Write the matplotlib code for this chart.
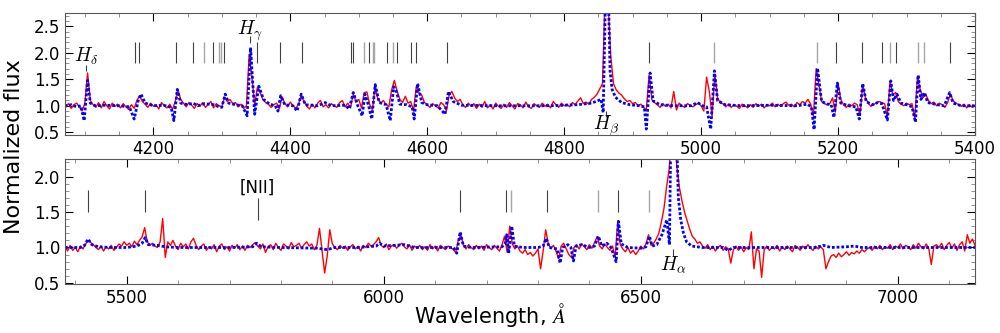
import numpy as np
import matplotlib
matplotlib.use('Agg')
import matplotlib.pyplot as plt
from matplotlib.ticker import MultipleLocator

plt.rcParams['mathtext.fontset'] = 'cm'

# observed spectrum, blue arm (4 A steps from 4072 A)
obs_top = [
    0.97, 1.04, 0.95, 1.02, 1.05, 0.98, 0.90, 1.05, 1.62, 1.10,
    1.02, 0.97, 1.06, 0.96, 1.08, 1.00, 0.94, 1.05, 0.99, 1.03,
    0.96, 1.04, 0.98, 0.93, 1.02, 0.95, 1.10, 1.19, 1.08, 1.03,
    0.97, 1.05, 0.99, 1.02, 0.94, 1.06, 1.00, 0.96, 1.03, 0.93,
    1.08, 1.30, 1.12, 1.05, 0.98, 1.06, 1.01, 0.95, 1.04, 0.99,
    1.06, 0.97, 1.02, 1.08, 0.96, 1.04, 1.00, 0.98, 1.16, 1.08,
    1.12, 1.04, 1.06, 0.98, 1.03, 0.95, 1.00, 1.97, 1.55, 1.02,
    1.35, 1.25, 1.12, 1.06, 1.03, 0.97, 1.02, 1.05, 0.94, 1.17,
    1.04, 0.98, 1.07, 1.00, 0.95, 1.03, 1.20, 1.08, 0.99, 0.94,
    1.03, 0.96, 1.05, 1.10, 0.98, 1.02, 0.96, 1.04, 1.00, 0.97,
    1.06, 1.10, 0.98, 1.05, 0.96, 1.22, 1.08, 1.12, 0.96, 1.25,
    1.26, 1.02, 0.92, 1.38, 1.12, 1.05, 1.10, 1.02, 0.98, 1.30,
    1.48, 1.28, 1.12, 1.06, 1.18, 1.05, 1.08, 0.90, 1.36, 1.25,
    1.20, 1.06, 1.02, 0.97, 1.04, 1.00, 0.96, 1.06, 1.02, 0.90,
    1.20, 1.27, 1.15, 1.08, 1.12, 1.02, 0.97, 1.05, 0.99, 1.04,
    0.95, 1.03, 0.97, 1.08, 0.96, 1.02, 0.94, 1.05, 0.99, 0.95,
    1.03, 0.97, 1.06, 1.00, 0.94, 1.04, 1.02, 0.96, 1.07, 0.98,
    0.95, 1.04, 1.00, 0.97, 1.05, 0.99, 1.03, 0.96, 1.08, 1.02,
    0.97, 1.05, 1.00, 1.03, 0.98, 1.06, 1.02, 1.09, 1.15, 1.04,
    1.07, 1.03, 1.12, 1.16, 1.22, 1.32, 1.42, 3.20, 3.00, 1.95,
    1.42, 1.30, 1.24, 1.20, 1.13, 1.08, 1.10, 1.04, 1.06, 1.00,
    1.03, 0.97, 0.92, 1.58, 1.12, 1.06, 1.02, 0.97, 1.04, 0.99,
    1.03, 0.96, 1.27, 0.92, 1.05, 1.00, 0.97, 1.04, 1.01, 0.98,
    1.02, 1.05, 1.00, 0.90, 1.54, 1.27, 0.80, 1.60, 1.15, 1.05,
    1.04, 0.98, 1.03, 0.97, 1.02, 0.99, 0.95, 1.03, 1.00, 0.96,
    1.02, 0.97, 1.04, 0.99, 1.03, 0.96, 1.02, 1.00, 1.05, 0.98,
    1.03, 0.99, 1.04, 1.07, 1.01, 1.03, 0.98, 1.06, 1.02, 1.08,
    1.05, 1.12, 1.03, 0.80, 1.70, 1.40, 1.08, 1.04, 1.02, 1.04,
    1.15, 0.88, 1.42, 1.12, 1.02, 0.97, 1.03, 1.00, 1.05, 1.02,
    0.82, 1.40, 1.15, 1.05, 0.99, 1.02, 1.06, 1.08, 1.06, 1.04,
    0.80, 1.47, 1.20, 1.25, 1.08, 1.03, 1.00, 1.05, 1.02, 1.04,
    0.76, 1.55, 1.30, 1.15, 1.22, 1.10, 1.04, 1.07, 1.00, 1.05,
    1.02, 0.97, 1.06, 1.22, 1.10, 1.05, 1.02, 0.99, 1.03, 0.96,
    1.02, 0.97, 1.00,
]

# observed spectrum, red arm (5 A steps from 5380 A)
obs_bot = [
    1.02, 0.95, 1.03, 0.96, 1.00, 0.94, 1.02, 0.98, 1.05, 1.10,
    1.07, 1.04, 1.00, 0.97, 1.02, 0.95, 1.01, 0.98, 1.03, 0.96,
    1.00, 1.05, 1.02, 1.08, 1.03, 1.06, 1.01, 1.09, 1.04, 1.10,
    1.15, 1.28, 1.08, 1.03, 1.06, 1.02, 1.00, 1.08, 1.41, 0.86,
    1.08, 1.03, 1.10, 1.02, 0.97, 1.06, 1.01, 1.05, 0.98, 1.08,
    1.13, 1.03, 0.97, 1.02, 1.05, 0.96, 1.01, 0.98, 1.04, 0.94,
    1.02, 1.05, 0.97, 1.01, 0.95, 1.03, 0.99, 1.04, 0.97, 1.02,
    0.96, 1.03, 1.00, 1.04, 1.07, 1.02, 0.98, 1.05, 0.93, 1.01,
    1.04, 0.97, 1.06, 1.00, 0.96, 1.05, 1.02, 0.98, 1.07, 1.01,
    1.03, 1.06, 0.99, 1.04, 1.08, 1.02, 1.05, 0.97, 1.03, 1.27,
    0.95, 0.64, 0.88, 1.25, 1.05, 1.00, 0.97, 1.03, 0.99, 1.02,
    0.96, 1.01, 1.04, 0.98, 1.02, 0.95, 1.03, 1.00, 1.06, 1.02,
    1.04, 1.08, 1.14, 1.03, 1.00, 1.05, 0.97, 1.02, 1.04, 0.99,
    1.03, 1.06, 1.01, 0.98, 1.04, 0.96, 1.02, 0.99, 1.03, 0.97,
    1.01, 0.96, 1.04, 0.98, 1.02, 0.95, 1.03, 1.00, 0.97, 1.02,
    1.00, 0.97, 0.93, 1.10, 1.18, 1.03, 0.98, 1.04, 1.00, 0.97,
    1.03, 0.98, 1.02, 0.96, 1.04, 1.00, 0.97, 1.03, 0.99, 0.95,
    1.04, 1.16, 0.93, 1.30, 1.05, 0.98, 1.02, 0.95, 0.92, 0.97,
    0.90, 0.93, 0.88, 0.92, 0.98, 0.70, 0.95, 1.25, 1.05, 0.99,
    1.03, 0.95, 0.84, 1.02, 1.06, 0.98, 0.90, 0.86, 1.00, 1.04,
    0.98, 1.05, 1.01, 0.97, 1.04, 0.99, 1.07, 1.15, 1.02, 0.98,
    1.05, 1.00, 0.96, 1.02, 0.86, 1.35, 1.04, 0.98, 0.94, 1.00,
    0.92, 0.96, 0.90, 0.95, 1.02, 0.98, 1.05, 1.18, 1.03, 1.06,
    1.12, 1.20, 1.36, 1.55, 1.85, 2.10, 2.60, 2.60, 2.15, 1.85,
    1.66, 1.50, 1.38, 1.26, 1.16, 1.12, 1.06, 1.08, 1.02, 0.99,
    1.04, 0.97, 1.02, 0.95, 1.00, 1.03, 0.96, 1.01, 0.98, 0.78,
    0.97, 1.02, 0.96, 1.01, 0.94, 1.00, 0.97, 1.22, 0.70, 0.98,
    0.95, 0.58, 0.97, 1.02, 0.96, 1.00, 0.98, 1.03, 0.95, 1.01,
    0.97, 1.02, 0.98, 0.94, 1.03, 1.00, 0.96, 1.02, 0.98, 1.04,
    0.99, 0.96, 1.02, 0.98, 1.01, 0.97, 0.70, 0.80, 0.88, 0.90,
    0.86, 0.92, 0.87, 0.90, 0.94, 0.89, 0.93, 0.91, 0.95, 0.92,
    0.97, 0.94, 0.98, 1.00, 0.96, 1.02, 0.98, 1.03, 0.97, 1.01,
    0.99, 1.04, 0.97, 1.02, 1.00, 1.05, 0.98, 1.03, 1.01, 0.97,
    1.04, 0.99, 1.06, 1.01, 0.98, 1.05, 0.99, 0.76, 1.02, 1.04,
    1.00, 1.06, 0.97, 1.03, 1.07, 0.99, 1.05, 0.96, 1.04, 1.08,
    0.95, 1.18, 1.06, 1.12, 1.03,
]

# synthetic model (wavelength, flux) nodes
mod_top_wl = [
    4070, 4080, 4088, 4094, 4099, 4104, 4108, 4115, 4130, 4150, 4165, 4172, 4178, 4182,
    4188, 4200, 4215, 4226, 4230, 4235, 4240, 4250, 4258, 4265, 4275, 4288, 4296, 4300,
    4305, 4310, 4320, 4330, 4337, 4342, 4348, 4354, 4361, 4370, 4378, 4382, 4386, 4392,
    4404, 4410, 4416, 4422, 4440, 4451, 4460, 4480, 4486, 4492, 4498, 4505, 4509, 4514,
    4519, 4524, 4530, 4540, 4546, 4551, 4555, 4560, 4570, 4578, 4581, 4586, 4592, 4600,
    4615, 4626, 4631, 4638, 4650, 4700, 4780, 4820, 4840, 4848, 4854, 4857, 4861, 4864,
    4867, 4870, 4875, 4884, 4896, 4910, 4917, 4920, 4925.5, 4930, 4940, 4960, 4985, 4995,
    5002, 5008, 5014, 5019.5, 5024, 5035, 5060, 5100, 5140, 5155, 5161, 5165, 5170, 5176,
    5185, 5190, 5194, 5199, 5204, 5215, 5226, 5231, 5236, 5241, 5250, 5258, 5264, 5272,
    5277, 5281, 5286, 5292, 5300, 5308, 5313, 5317, 5321, 5326, 5331, 5345, 5355, 5363,
    5368, 5380, 5400,
]
mod_top_flux = [
    1.00, 1.02, 0.98, 1.00, 0.72, 1.48, 1.05, 1.00, 1.01, 1.00, 0.98, 0.75, 1.10, 1.22,
    1.05, 1.00, 1.01, 0.97, 0.72, 1.31, 1.05, 1.02, 1.05, 1.00, 1.04, 1.02, 0.98, 0.97,
    1.22, 1.05, 1.02, 1.00, 0.81, 2.10, 0.84, 1.37, 1.12, 1.03, 1.00, 0.90, 1.19, 1.02,
    1.00, 0.90, 1.22, 1.02, 1.00, 1.06, 1.00, 1.01, 0.94, 1.25, 1.02, 0.81, 1.22, 1.02,
    0.75, 1.40, 1.06, 1.02, 0.72, 1.36, 1.27, 1.03, 1.02, 0.98, 0.75, 1.42, 1.06, 1.02,
    1.00, 0.84, 1.27, 1.08, 1.01, 1.00, 1.00, 1.02, 1.05, 1.09, 1.12, 0.87, 3.50, 3.50,
    1.66, 1.31, 1.16, 1.06, 1.02, 1.00, 0.98, 0.56, 1.62, 1.09, 1.02, 1.00, 1.00, 1.06,
    1.00, 0.98, 0.56, 1.66, 1.10, 1.02, 1.00, 1.01, 1.00, 1.03, 0.98, 0.55, 1.71, 1.08,
    1.03, 1.02, 0.78, 1.43, 1.05, 1.00, 0.98, 0.75, 1.42, 1.08, 1.02, 1.06, 1.04, 0.73,
    1.47, 1.10, 1.22, 1.05, 1.02, 0.98, 0.69, 1.58, 1.12, 1.25, 1.06, 1.02, 1.00, 1.25,
    1.05, 1.00, 1.00,
]
mod_bot_wl = [
    5380, 5410, 5418, 5425, 5432, 5445, 5470, 5500, 5520, 5530, 5536, 5542, 5560, 5575,
    5600, 5700, 5745, 5753, 5762, 5800, 5870, 5890, 5905, 5950, 5985, 5992, 6000, 6040,
    6060, 6100, 6136, 6142, 6148.5, 6155, 6170, 6230, 6236, 6239, 6243, 6249, 6254, 6270,
    6300, 6310, 6316, 6322, 6337, 6343, 6348, 6358, 6364, 6369, 6374, 6385, 6400, 6410,
    6417.5, 6424, 6434, 6442, 6452, 6456.4, 6462, 6475, 6500, 6510, 6516.7, 6522, 6531,
    6541, 6550.5, 6555.7, 6559, 6568, 6573, 6577.7, 6583, 6589, 6599, 6620, 6660, 6670,
    6680, 6840, 6855, 6870, 6900, 6915, 6930, 7150,
]
mod_bot_flux = [
    1.00, 1.00, 1.03, 1.12, 1.04, 1.01, 1.00, 1.00, 1.02, 1.06, 1.14, 1.04, 1.03, 1.01,
    1.00, 1.00, 1.01, 1.06, 1.01, 1.00, 0.99, 0.97, 1.00, 1.00, 1.02, 1.06, 1.02, 1.04,
    1.00, 1.00, 1.00, 0.92, 1.22, 1.02, 1.00, 1.01, 1.05, 1.18, 0.92, 1.30, 1.02, 1.00,
    1.00, 1.02, 1.13, 1.00, 0.98, 0.78, 1.00, 1.04, 1.00, 0.81, 1.02, 1.04, 1.00, 1.02,
    1.16, 1.02, 1.06, 1.00, 0.80, 1.37, 1.05, 1.00, 0.99, 1.01, 1.16, 1.02, 1.04,
    1.18, 1.39, 1.04, 3.00, 3.00, 1.70, 1.39, 1.20, 1.08, 1.02, 1.00, 1.00, 0.96,
    1.00, 1.00, 1.03, 1.00, 1.01, 1.02, 1.00, 1.00,
]

# Fe II line identifications
fe_top = [4173.5, 4178.9, 4233.2, 4258.2, 4287.4, 4303.2, 4351.8, 4385.4, 4416.8,
          4489.2, 4491.4, 4515.3, 4541.5, 4555.9, 4576.3, 4583.8, 4629.3, 4923.9,
          5197.6, 5234.6, 5264.8, 5284.1, 5362.9]
fe_top_weak = [4273.3, 4296.6, 4299.5, 4508.3, 4520.2, 4522.6, 4549.5, 5018.4,
               5169.0, 5276.0, 5316.6, 5325.6]
fe_bot = [5425.3, 5534.8, 6147.7, 6238.4, 6317.4, 6456.4]
fe_bot_weak = [6247.6, 6416.9, 6516.1]

h_delta, h_gamma, h_beta, h_alpha = 4101.7, 4340.5, 4861.3, 6562.8
nii = 5754.6

wl_top = 4072 + 4 * np.arange(len(obs_top))
wl_bot = 5380 + 5 * np.arange(len(obs_bot))

fig = plt.figure(figsize=(10, 3.33), dpi=100)
ax1 = fig.add_axes([0.065, 0.595, 0.91, 0.367])
ax2 = fig.add_axes([0.065, 0.146, 0.91, 0.377])

for ax in (ax1, ax2):
    for s in ax.spines.values():
        s.set_color('0.35')
    ax.tick_params(which='both', direction='in', top=True, right=True, labelsize=12)
    ax.tick_params(which='major', length=6, color='k')
    ax.tick_params(which='minor', length=3, color='0.5')
    ax.yaxis.set_major_locator(MultipleLocator(0.5))
    ax.yaxis.set_minor_locator(MultipleLocator(0.1))

model_ls = (0, (1, 0.7))

# top panel
ax1.plot(wl_top, obs_top, color='red', lw=1)
ax1.plot(mod_top_wl, mod_top_flux, color='blue', lw=2, ls=model_ls)
ax1.vlines(fe_top, 1.8, 2.2, color='0.25', lw=0.8)
ax1.vlines(fe_top_weak, 1.8, 2.2, color='0.65', lw=1.0)
ax1.vlines(h_delta, 1.66, 1.78, color='0.25', lw=0.8)
ax1.text(h_delta, 1.94, '$H_\\delta$', ha='center', va='center', fontsize=14)
ax1.vlines(h_gamma, 2.19, 2.31, color='0.25', lw=0.8)
ax1.text(h_gamma, 2.42, '$H_\\gamma$', ha='center', va='center', fontsize=14)
ax1.vlines(h_beta, 0.78, 0.91, color='0.25', lw=0.8)
ax1.text(h_beta, 0.62, '$H_\\beta$', ha='center', va='center', fontsize=14)
ax1.set_xlim(4071, 5400)
ax1.set_ylim(0.45, 2.76)
ax1.xaxis.set_major_locator(MultipleLocator(200))
ax1.xaxis.set_minor_locator(MultipleLocator(50))

# bottom panel
ax2.plot(wl_bot, obs_bot, color='red', lw=1)
ax2.plot(mod_bot_wl, mod_bot_flux, color='blue', lw=2, ls=model_ls)
ax2.vlines(fe_bot, 1.5, 1.81, color='0.25', lw=0.8)
ax2.vlines(fe_bot_weak, 1.5, 1.81, color='0.65', lw=1.0)
ax2.vlines(nii, 1.39, 1.70, color='0.25', lw=0.8)
ax2.text(nii, 1.84, '[NII]', ha='center', va='center', fontsize=12)
ax2.vlines(h_alpha, 0.88, 0.98, color='0.25', lw=0.8)
ax2.text(h_alpha, 0.76, '$H_\\alpha$', ha='center', va='center', fontsize=14)
ax2.set_xlim(5380, 7150)
ax2.set_ylim(0.48, 2.25)
ax2.xaxis.set_major_locator(MultipleLocator(500))
ax2.xaxis.set_minor_locator(MultipleLocator(100))

fig.text(0.49, 0.012, 'Wavelength, $\\AA$', ha='center', va='bottom', fontsize=15)
fig.text(0.014, 0.56, 'Normalized flux', rotation=90, ha='center', va='center', fontsize=16)

fig.savefig('out.png', dpi=100)
